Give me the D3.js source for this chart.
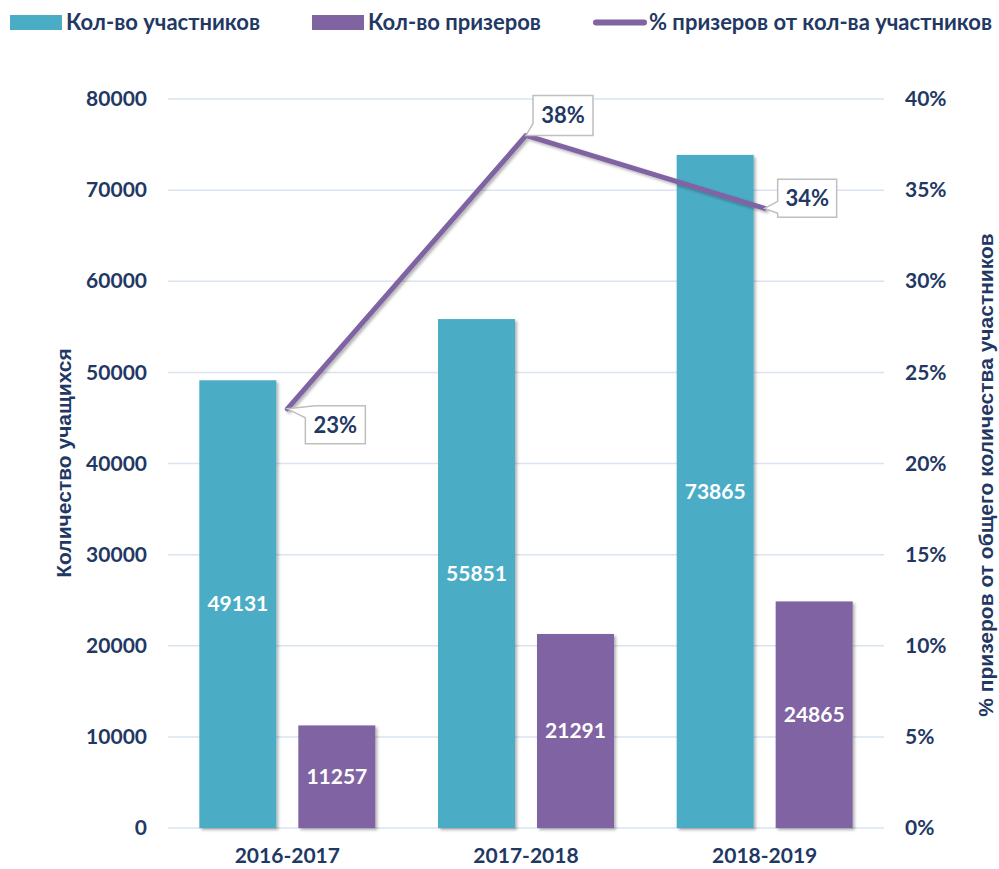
<!DOCTYPE html>
<html>
<head>
<meta charset="utf-8">
<script src="https://cdn.jsdelivr.net/npm/d3@7"></script>
<style>
  body { margin: 0; background: #fff; }
  text { font-family: Lato, "Noto Sans", sans-serif; font-weight: bold; }
</style>
</head>
<body>
<div id="chart"></div>
<script>
// chart data
var seasons = ["2016-2017", "2017-2018", "2018-2019"];
var participants = [49131, 55851, 73865];
var winners = [11257, 21291, 24865];
var winnerShare = [0.23, 0.38, 0.34];
var countTicks = [0, 10000, 20000, 30000, 40000, 50000, 60000, 70000, 80000];
var shareTicks = [0, 0.05, 0.10, 0.15, 0.20, 0.25, 0.30, 0.35, 0.40];
var legendNames = ["Кол-во участников", "Кол-во призеров", "% призеров от кол-ва участников"];

var teal = "#4bacc6", purple = "#8064a2", navy = "#1f3864", grid = "#d9e3f1";

var outerWidth = 999, outerHeight = 869;
var plot = {left: 168, right: 884, top: 99, bottom: 828};

var svg = d3.select("#chart").append("svg")
    .attr("width", outerWidth)
    .attr("height", outerHeight);

var defs = svg.append("defs");
var shadow = defs.append("filter").attr("id", "shadow")
    .attr("x", "-20%").attr("y", "-20%").attr("width", "140%").attr("height", "140%");
shadow.append("feDropShadow")
    .attr("dx", 2).attr("dy", 2).attr("stdDeviation", 1.8)
    .attr("flood-color", "#000").attr("flood-opacity", 0.3);

var xScale = d3.scaleBand()
    .domain(seasons)
    .range([plot.left, plot.right]);

var yScale = d3.scaleLinear()
    .domain([0, 80000])
    .range([plot.bottom, plot.top]);

var pctScale = d3.scaleLinear()
    .domain([0, 0.4])
    .range([plot.bottom, plot.top]);

// gridlines
svg.append("g").selectAll("line")
    .data(countTicks)
    .enter().append("line")
    .attr("x1", plot.left)
    .attr("x2", plot.right)
    .attr("y1", function(d) { return yScale(d); })
    .attr("y2", function(d) { return yScale(d); })
    .attr("stroke", grid)
    .attr("stroke-width", 1.5);

// left axis labels
var leftAxis = d3.axisLeft(yScale).tickValues(countTicks).tickSize(0).tickPadding(21)
    .tickFormat(d3.format("d"));
var gl = svg.append("g")
    .attr("transform", "translate(" + plot.left + ",0)")
    .call(leftAxis);
gl.select(".domain").remove();
gl.selectAll("text")
    .attr("fill", navy)
    .style("font-size", "21px")
    .style("font-family", "Lato, sans-serif");

// right axis labels
var rightAxis = d3.axisRight(pctScale).tickValues(shareTicks).tickSize(0).tickPadding(21)
    .tickFormat(d3.format(".0%"));
var gr = svg.append("g")
    .attr("transform", "translate(" + plot.right + ",0)")
    .call(rightAxis);
gr.select(".domain").remove();
gr.selectAll("text")
    .attr("fill", navy)
    .style("font-size", "21px")
    .style("font-family", "Lato, sans-serif");

// category labels
var gx = svg.append("g")
    .attr("transform", "translate(0," + plot.bottom + ")")
    .call(d3.axisBottom(xScale).tickSize(0).tickPadding(20));
gx.select(".domain").remove();
gx.selectAll("text")
    .attr("fill", navy)
    .style("font-size", "21px")
    .style("font-family", "Lato, sans-serif");

// bars
var barW = 77, barGap = 11;
var bars = svg.append("g").attr("filter", "url(#shadow)");

bars.selectAll("rect.part")
    .data(participants)
    .enter().append("rect")
    .attr("class", "part")
    .attr("x", function(d, i) { return xScale(seasons[i]) + xScale.bandwidth() / 2 - barGap - barW; })
    .attr("y", function(d) { return yScale(d); })
    .attr("width", barW)
    .attr("height", function(d) { return yScale(0) - yScale(d); })
    .attr("fill", teal);

bars.selectAll("rect.win")
    .data(winners)
    .enter().append("rect")
    .attr("class", "win")
    .attr("x", function(d, i) { return xScale(seasons[i]) + xScale.bandwidth() / 2 + barGap; })
    .attr("y", function(d) { return yScale(d); })
    .attr("width", barW)
    .attr("height", function(d) { return yScale(0) - yScale(d); })
    .attr("fill", purple);

// bar labels, centered in bars
svg.append("g").selectAll("text.part")
    .data(participants)
    .enter().append("text")
    .attr("x", function(d, i) { return xScale(seasons[i]) + xScale.bandwidth() / 2 - barGap - barW / 2; })
    .attr("y", function(d) { return (yScale(d) + yScale(0)) / 2; })
    .attr("dy", "0.35em")
    .attr("text-anchor", "middle")
    .attr("fill", "#fff")
    .style("font-size", "21px")
    .text(function(d) { return d; });

svg.append("g").selectAll("text.win")
    .data(winners)
    .enter().append("text")
    .attr("x", function(d, i) { return xScale(seasons[i]) + xScale.bandwidth() / 2 + barGap + barW / 2; })
    .attr("y", function(d) { return (yScale(d) + yScale(0)) / 2; })
    .attr("dy", "0.35em")
    .attr("text-anchor", "middle")
    .attr("fill", "#fff")
    .style("font-size", "21px")
    .text(function(d) { return d; });

// percentage line
var line = d3.line()
    .x(function(d, i) { return xScale(seasons[i]) + xScale.bandwidth() / 2; })
    .y(function(d) { return pctScale(d); });

svg.append("path")
    .datum(winnerShare)
    .attr("d", line)
    .attr("fill", "none")
    .attr("stroke", purple)
    .attr("stroke-width", 5)
    .attr("stroke-linejoin", "round")
    .attr("stroke-linecap", "round")
    .attr("filter", "url(#shadow)");

// callouts: box offset from point, box size, wedge points on box (relative)
var callouts = [
  {dx: 18, dy: -3, w: 60, h: 38, wedge: [[0, 12], [10, 0]]},
  {dx: 7, dy: -40, w: 60, h: 40, wedge: [[12, 40], [0, 28]]},
  {dx: 13, dy: -29, w: 59, h: 38, wedge: [[0, 34], [0, 22]]}
];

var cg = svg.append("g");
winnerShare.forEach(function(d, i) {
  var px = xScale(seasons[i]) + xScale.bandwidth() / 2;
  var py = pctScale(d);
  var c = callouts[i];
  var bx = px + c.dx, by = py + c.dy;
  var w = c.w, h = c.h;
  var p;
  if (i === 0) {
    p = "M" + (bx + c.wedge[1][0]) + "," + by + "L" + (bx + w) + "," + by +
        "L" + (bx + w) + "," + (by + h) + "L" + bx + "," + (by + h) +
        "L" + bx + "," + (by + c.wedge[0][1]) + "L" + px + "," + py + "Z";
  } else if (i === 1) {
    p = "M" + bx + "," + by + "L" + (bx + w) + "," + by +
        "L" + (bx + w) + "," + (by + h) + "L" + (bx + c.wedge[0][0]) + "," + (by + h) +
        "L" + px + "," + py + "L" + bx + "," + (by + c.wedge[1][1]) + "Z";
  } else {
    p = "M" + bx + "," + by + "L" + (bx + w) + "," + by +
        "L" + (bx + w) + "," + (by + h) + "L" + bx + "," + (by + h) +
        "L" + bx + "," + (by + c.wedge[0][1]) + "L" + px + "," + py +
        "L" + bx + "," + (by + c.wedge[1][1]) + "Z";
  }
  cg.append("path")
      .attr("d", p)
      .attr("fill", "#fff")
      .attr("stroke", "#bfbfbf")
      .attr("stroke-width", 1.5);
  cg.append("text")
      .attr("x", bx + w / 2)
      .attr("y", by + h / 2)
      .attr("dy", "0.36em")
      .attr("text-anchor", "middle")
      .attr("fill", navy)
      .style("font-size", "22px")
      .text(d3.format(".0%")(d));
});

// axis titles
svg.append("text")
    .attr("transform", "translate(71,463) rotate(-90)")
    .attr("text-anchor", "middle")
    .attr("fill", navy)
    .style("font-family", "'Liberation Sans', Arial, sans-serif")
    .style("font-size", "21px")
    .text("Количество учащихся");

svg.append("text")
    .attr("transform", "translate(993,475) rotate(-90)")
    .attr("text-anchor", "middle")
    .attr("fill", navy)
    .style("font-family", "'Liberation Sans', Arial, sans-serif")
    .style("font-size", "21px")
    .text("% призеров от общего количества участников");

// legend
var legend = svg.append("g");
var legendX = [10, 312, 593];
legendNames.forEach(function(name, i) {
  if (i < 2) {
    legend.append("rect")
        .attr("x", legendX[i]).attr("y", 15)
        .attr("width", 52).attr("height", 15)
        .attr("fill", i === 0 ? teal : purple);
  } else {
    legend.append("line")
        .attr("x1", legendX[i] + 3).attr("x2", legendX[i] + 51)
        .attr("y1", 22.5).attr("y2", 22.5)
        .attr("stroke", purple).attr("stroke-width", 6)
        .attr("stroke-linecap", "round");
  }
  legend.append("text")
      .attr("x", legendX[i] + 56)
      .attr("y", 30)
      .attr("fill", navy)
      .style("font-size", "22px")
      .text(name);
});
</script>
</body>
</html>
